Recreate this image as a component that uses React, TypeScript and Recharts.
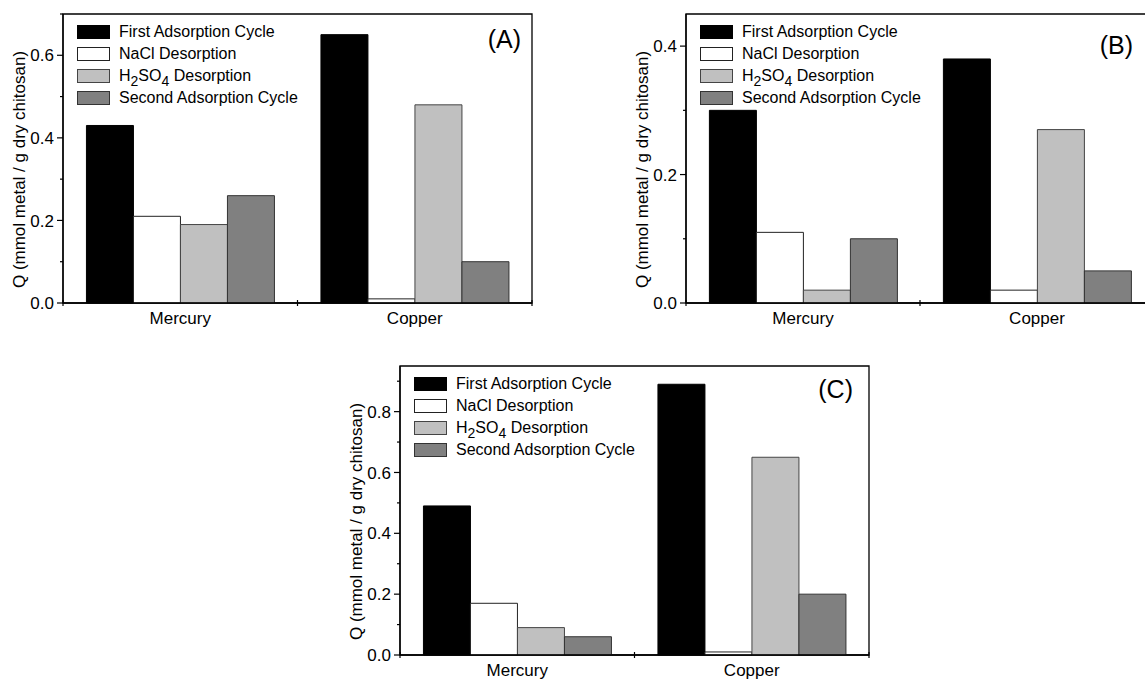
import React from "react";
import { BarChart, Bar, XAxis, YAxis, Legend, ReferenceArea } from "recharts";

const FONT = "'Liberation Sans', Arial, sans-serif";

const metals = ["Mercury", "Copper"];

// panel A
const firstCycleA = [0.43, 0.65];
const naclA = [0.21, 0.01];
const h2so4A = [0.19, 0.48];
const secondCycleA = [0.26, 0.1];
const ticksA = [0, 0.1, 0.2, 0.3, 0.4, 0.5, 0.6, 0.7];

// panel B
const firstCycleB = [0.3, 0.38];
const naclB = [0.11, 0.02];
const h2so4B = [0.02, 0.27];
const secondCycleB = [0.1, 0.05];
const ticksB = [0, 0.1, 0.2, 0.3, 0.4];

// panel C
const firstCycleC = [0.49, 0.89];
const naclC = [0.17, 0.01];
const h2so4C = [0.09, 0.65];
const secondCycleC = [0.06, 0.2];
const ticksC = [0, 0.1, 0.2, 0.3, 0.4, 0.5, 0.6, 0.7, 0.8, 0.9];

const seriesKeys = ["first", "nacl", "h2so4", "second"];
const seriesNames = ["First Adsorption Cycle", "NaCl Desorption", "H2SO4 Desorption", "Second Adsorption Cycle"];
const seriesFills = ["#000000", "#ffffff", "#c0c0c0", "#808080"];
const seriesStrokes = ["#000000", "#222222", "#444444", "#333333"];

const yTitle = "Q (mmol metal / g dry chitosan)";

function buildRows(a: number[], b: number[], c: number[], d: number[]) {
  return metals.map((metal, i) => ({ metal, first: a[i], nacl: b[i], h2so4: c[i], second: d[i] }));
}

function withSubscripts(name: string) {
  return name.split(/(\d)/).map((part, i) =>
    /^\d$/.test(part) ? (
      <span key={i} style={{ fontSize: 14, position: "relative", top: 5 }}>{part}</span>
    ) : (
      <span key={i}>{part}</span>
    )
  );
}

function YTick(props: any) {
  const { x, y, payload } = props;
  const v = payload.value as number;
  const major = Math.round(v * 10) % 2 === 0;
  return (
    <g>
      <line x1={x} x2={x - (major ? 6 : 3)} y1={y} y2={y} stroke="#000" strokeWidth={1.2} />
      {major && (
        <text x={x - 9} y={y} dy="0.36em" textAnchor="end" fontSize={17} fill="#000" fontFamily={FONT}>
          {v.toFixed(1)}
        </text>
      )}
    </g>
  );
}

function XTick(props: any) {
  const { x, y, payload, width, index, visibleTicksCount } = props;
  const band = width / visibleTicksCount;
  const left = x - band / 2;
  const right = x + band / 2;
  return (
    <g>
      <line x1={left} x2={left} y1={y - 3} y2={y + 3} stroke="#000" strokeWidth={1.2} />
      {index === visibleTicksCount - 1 && (
        <line x1={right} x2={right} y1={y - 3} y2={y + 3} stroke="#000" strokeWidth={1.2} />
      )}
      <text x={x} y={y + 21} textAnchor="middle" fontSize={17} fill="#000" fontFamily={FONT}>
        {payload.value}
      </text>
    </g>
  );
}

function YTitle(props: any) {
  const { viewBox } = props;
  const cx = viewBox.x + 19;
  const cy = viewBox.y + viewBox.height / 2 + 11;
  return (
    <text
      x={cx}
      y={cy}
      transform={`rotate(-90, ${cx}, ${cy})`}
      textAnchor="middle"
      dy="0.36em"
      fontSize={17}
      fill="#000"
      fontFamily={FONT}
    >
      {yTitle}
    </text>
  );
}

function LegendBox() {
  return (
    <div style={{ fontFamily: FONT, fontSize: 16, color: "#000" }}>
      {seriesNames.map((name, i) => (
        <div key={name} style={{ display: "flex", alignItems: "center", height: 22 }}>
          <div
            style={{
              width: 33,
              height: 14,
              boxSizing: "border-box",
              border: `1px solid ${seriesStrokes[i]}`,
              background: seriesFills[i],
              marginRight: 9,
            }}
          />
          <span style={{ lineHeight: 1, whiteSpace: "nowrap" }}>{withSubscripts(name)}</span>
        </div>
      ))}
    </div>
  );
}

interface PanelProps {
  rows: any[];
  max: number;
  ticks: number[];
  tag: string;
  left: number;
  top: number;
  tagRight: number;
  tagTop: number;
  marginRight: number;
}

function Panel({ rows, max, ticks, tag, left, top, tagRight, tagTop, marginRight }: PanelProps) {
  return (
    <div style={{ position: "absolute", left, top, width: 545, height: 330 }}>
      <BarChart
        width={545}
        height={330}
        data={rows}
        margin={{ top: 14, right: marginRight, left: 0, bottom: 7 }}
        barCategoryGap="10%"
        barGap={0}
      >
        <XAxis
          dataKey="metal"
          height={20}
          tickSize={0}
          tickMargin={0}
          tickLine={false}
          axisLine={{ stroke: "#000", strokeWidth: 1.3 }}
          tick={<XTick />}
          interval={0}
        />
        <YAxis
          width={63}
          domain={[0, max]}
          ticks={ticks}
          interval={0}
          tickSize={0}
          tickMargin={0}
          tickLine={false}
          axisLine={{ stroke: "#000", strokeWidth: 1.3 }}
          tick={<YTick />}
          label={<YTitle />}
        />
        <Legend
          layout="vertical"
          align="center"
          verticalAlign="middle"
          wrapperStyle={{ left: 77, top: 21, width: "auto", height: "auto" }}
          content={<LegendBox />}
        />
        {seriesKeys.map((key, i) => (
          <Bar
            key={key}
            dataKey={key}
            name={seriesNames[i]}
            fill={seriesFills[i]}
            stroke={seriesStrokes[i]}
            strokeWidth={1}
            isAnimationActive={false}
          />
        ))}
        <ReferenceArea y1={0} y2={max} fill="none" fillOpacity={0} stroke="#000" strokeWidth={1.3} />
      </BarChart>
      <div
        style={{
          position: "absolute",
          right: tagRight,
          top: tagTop,
          fontFamily: FONT,
          fontSize: 25,
          lineHeight: 1,
          color: "#000",
        }}
      >
        {tag}
      </div>
    </div>
  );
}

export default function App() {
  return (
    <div
      style={{
        position: "absolute",
        left: 0,
        top: 0,
        width: 1145,
        height: 680,
        overflow: "hidden",
        background: "#fff",
      }}
    >
      <Panel
        rows={buildRows(firstCycleA, naclA, h2so4A, secondCycleA)}
        max={0.7}
        ticks={ticksA}
        tag="(A)"
        left={0}
        top={0}
        tagRight={24}
        tagTop={27}
        marginRight={13}
      />
      <Panel
        rows={buildRows(firstCycleB, naclB, h2so4B, secondCycleB)}
        max={0.45}
        ticks={ticksB}
        tag="(B)"
        left={623}
        top={0}
        tagRight={35}
        tagTop={33}
        marginRight={14}
      />
      <Panel
        rows={buildRows(firstCycleC, naclC, h2so4C, secondCycleC)}
        max={0.95}
        ticks={ticksC}
        tag="(C)"
        left={337}
        top={352}
        tagRight={29}
        tagTop={25}
        marginRight={13}
      />
    </div>
  );
}
